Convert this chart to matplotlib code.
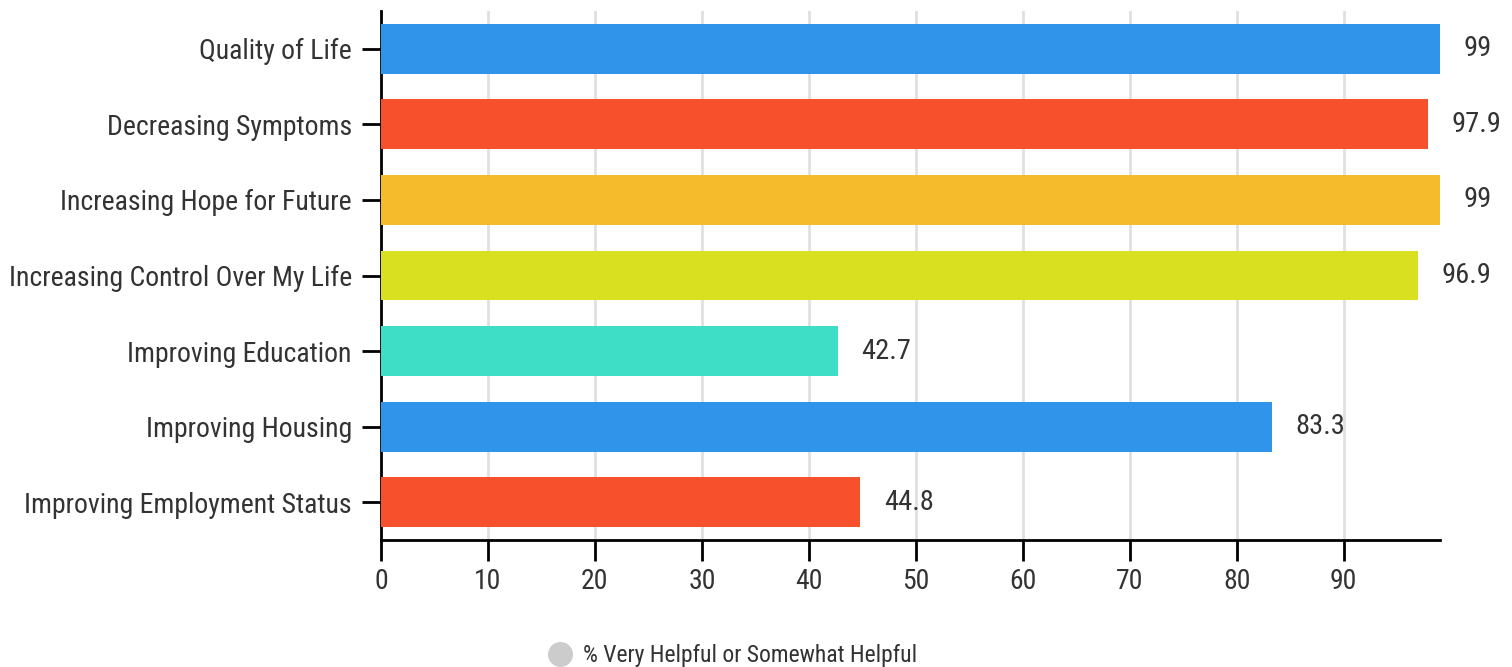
import matplotlib
matplotlib.use("Agg")
import matplotlib.pyplot as plt
from matplotlib.lines import Line2D

categories = ["Quality of Life", "Decreasing Symptoms", "Increasing Hope for Future",
              "Increasing Control Over My Life", "Improving Education",
              "Improving Housing", "Improving Employment Status"]
values = [99, 97.9, 99, 96.9, 42.7, 83.3, 44.8]
value_labels = ["99", "97.9", "99", "96.9", "42.7", "83.3", "44.8"]
xticks = [0, 10, 20, 30, 40, 50, 60, 70, 80, 90]
legend_label = "% Very Helpful or Somewhat Helpful"
colors = ["#2F94EA", "#F6502C", "#F6BB2D", "#D8E020", "#3EDDC5", "#2F94EA", "#F6502C"]

plt.rcParams["font.family"] = ["Roboto Condensed", "DejaVu Sans"]

fig = plt.figure(figsize=(15.12, 6.67), dpi=100)
ax = fig.add_axes([381/1512, 1-540/667, (1440-381)/1512, (540-11)/667])
y = list(range(len(categories)))
ax.barh(y, values, height=0.66, color=colors, zorder=3)
ax.set_ylim(len(categories)-0.5, -0.5)
ax.set_xlim(0, 99)
ax.set_yticks(y)
ax.set_yticklabels(categories)
ax.set_xticks(xticks)
ax.grid(axis="x", color="#E0E0E0", linewidth=2, zorder=0)
for s in ["top", "right"]:
    ax.spines[s].set_visible(False)
for s in ["left", "bottom"]:
    ax.spines[s].set_linewidth(2)
    ax.spines[s].set_color("black")
ax.tick_params(axis="y", length=14, width=2, pad=7, labelsize=20, labelcolor="#333333")
ax.tick_params(axis="x", length=15, width=2, pad=5, labelsize=20, labelcolor="#333333")
for yi, v, lab in zip(y, values, value_labels):
    ax.annotate(lab, (v, yi), xytext=(17, 0), textcoords="offset points",
                va="center", ha="left", fontsize=20.5, color="#333333")

handle = Line2D([], [], linestyle="none", marker="o", markersize=17,
                markerfacecolor="#CCCCCC", markeredgecolor="#CCCCCC")
fig.legend([handle], [legend_label], loc="center", bbox_to_anchor=(0.4845, 0.017),
           frameon=False, fontsize=17, handletextpad=0.5, labelcolor="#333333",
           handlelength=1.0)
fig.savefig("out.png", dpi=100)
